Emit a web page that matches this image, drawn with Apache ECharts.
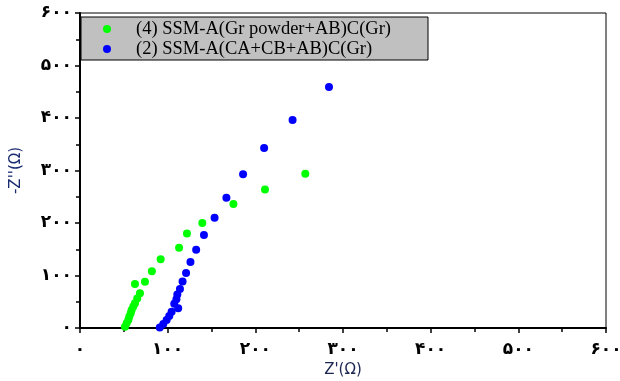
<!DOCTYPE html>
<html>
<head>
<meta charset="utf-8">
<script src="https://cdn.jsdelivr.net/npm/echarts@6/dist/echarts.min.js"></script>
<style>
html,body{margin:0;padding:0;background:#fff;}
#chart{width:620px;height:381px;}
</style>
</head>
<body>
<div id="chart"></div>
<script>
var seriesNames = ['(4) SSM-A(Gr powder+AB)C(Gr)', '(2) SSM-A(CA+CB+AB)C(Gr)'];
var greenPoints = [
  [51.3,2.5],[53.2,9],[55.1,15.3],[56.2,21.6],[57.8,28],[58.9,34.4],[60.8,40.8],
  [62.7,47.2],[65.3,56],[68.4,66.3],[62.7,84],[74.1,88],[82,108],[92,131],
  [113,153],[122,180],[139.5,200],[175,236],[211,264],[257,294]
];
var bluePoints = [
  [91,1],[95,7.6],[98.8,15.3],[101.8,23],[104.5,31],[107.5,46],[112,37.6],
  [110,55],[111,64],[114,74.5],[117,88.5],[121,105],[126,125.5],[132.5,149],
  [141.4,177],[153.5,210],[167,248],[186,293],[210,343],[242.5,396],[284,459]
];
var xTickLabels = ['۰','۱۰۰','۲۰۰','۳۰۰','۴۰۰','۵۰۰','۶۰۰'];
var yTickLabels = ['۰','۱۰۰','۲۰۰','۳۰۰','۴۰۰','۵۰۰','۶۰۰'];
var xTitle = "Z'(Ω)";
var yTitle = "-Z''(Ω)";

var chart = echarts.init(document.getElementById('chart'), null, {renderer:'canvas'});
var tickFont = {color:'#000', fontFamily:'DejaVu Sans', fontWeight:'bold', fontSize:17};
chart.setOption({
  animation:false,
  backgroundColor:'#fff',
  grid:{left:80, right:14, top:13, bottom:53, show:true, borderColor:'#000', borderWidth:1, containLabel:false, outerBoundsMode:'none'},
  graphic:[{
    type:'rect', z:1,
    shape:{x:81, y:17, width:347, height:43},
    style:{fill:'#c0c0c0', stroke:'#000', lineWidth:1}
  }],
  legend:{
    orient:'vertical', left:103, top:19, z:10,
    itemWidth:8, itemHeight:8, itemGap:0,
    padding:[0,0,0,0],
    textStyle:{fontFamily:'Liberation Serif', fontSize:18.5, color:'#000', lineHeight:20, padding:[0,0,0,20]},
    data:[{name:seriesNames[0], icon:'circle'},{name:seriesNames[1], icon:'circle'}]
  },
  xAxis:{
    type:'value', min:0, max:600, interval:100,
    name:xTitle, nameLocation:'middle', nameGap:34,
    nameTextStyle:{color:'#1a2550', fontFamily:'DejaVu Sans', fontSize:15},
    axisLine:{show:true, lineStyle:{color:'#000', width:2}},
    axisTick:{show:true, length:5, lineStyle:{color:'#000', width:1.5}},
    minorTick:{show:true, splitNumber:2, length:4, lineStyle:{color:'#000', width:1.5}},
    splitLine:{show:false},
    axisLabel:Object.assign({margin:13, formatter:function(v){return xTickLabels[Math.round(v/100)];}}, tickFont)
  },
  yAxis:{
    type:'value', min:0, max:600, interval:100,
    name:yTitle, nameLocation:'middle', nameGap:56, nameRotate:90,
    nameTextStyle:{color:'#1a2a70', fontFamily:'DejaVu Sans', fontSize:15},
    axisLine:{show:true, lineStyle:{color:'#000', width:2}},
    axisTick:{show:true, length:5, lineStyle:{color:'#000', width:1.5}},
    minorTick:{show:true, splitNumber:2, length:4, lineStyle:{color:'#000', width:1.5}},
    splitLine:{show:false},
    axisLabel:Object.assign({margin:8, formatter:function(v){return yTickLabels[Math.round(v/100)];}}, tickFont)
  },
  series:[
    {name:seriesNames[0], type:'scatter', data:greenPoints, symbol:'circle', symbolSize:8, itemStyle:{color:'#00ff00', opacity:1}, z:3},
    {name:seriesNames[1], type:'scatter', data:bluePoints, symbol:'circle', symbolSize:8, itemStyle:{color:'#0000ff', opacity:1}, z:4}
  ]
});
</script>
</body>
</html>
